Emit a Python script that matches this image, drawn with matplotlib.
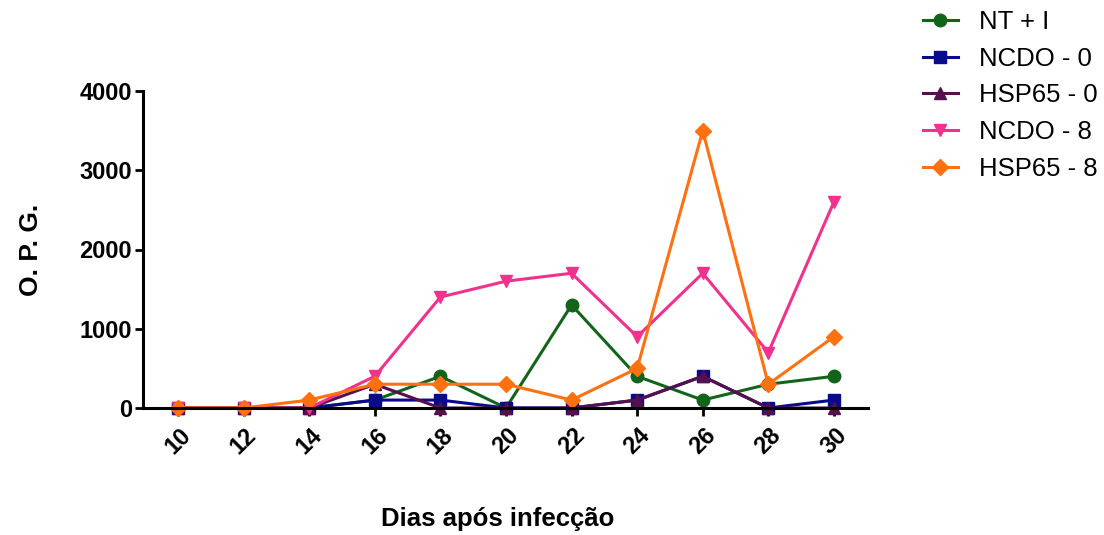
import matplotlib
matplotlib.use('Agg')
import matplotlib.pyplot as plt

# Dados
dias = [10, 12, 14, 16, 18, 20, 22, 24, 26, 28, 30]
nt_i = [0, 0, 0, 100, 400, 0, 1300, 400, 100, 300, 400]
ncdo_0 = [0, 0, 0, 100, 100, 0, 0, 100, 400, 0, 100]
hsp65_0 = [0, 0, 0, 300, 0, 0, 0, 100, 400, 0, 0]
ncdo_8 = [0, 0, 0, 400, 1400, 1600, 1700, 900, 1700, 700, 2600]
hsp65_8 = [0, 0, 100, 300, 300, 300, 100, 500, 3500, 300, 900]

series = [
    ("NT + I", nt_i, "#12641a", "o"),
    ("NCDO - 0", ncdo_0, "#0a0a8c", "s"),
    ("HSP65 - 0", hsp65_0, "#55104f", "^"),
    ("NCDO - 8", ncdo_8, "#f2318c", "v"),
    ("HSP65 - 8", hsp65_8, "#ff7010", "D"),
]

plt.rcParams['font.family'] = ['Liberation Sans', 'DejaVu Sans']

fig = plt.figure(figsize=(11.04, 5.35), dpi=100)
ax = fig.add_axes([143 / 1104, 1 - 408 / 535, 725 / 1104, 317 / 535])

for nome, vals, cor, mk in series:
    ax.plot(dias, vals, color=cor, marker=mk, markersize=9 if mk != "D" else 8,
            linewidth=2.2, label=nome, clip_on=False)

ax.set_xlim(8.93, 31.04)
ax.set_ylim(0, 4000)
ax.set_xticks(dias)
ax.set_yticks([0, 1000, 2000, 3000, 4000])
for s in ['top', 'right']:
    ax.spines[s].set_visible(False)
for s in ['left', 'bottom']:
    ax.spines[s].set_linewidth(2.2)
ax.tick_params(width=2, length=6, labelsize=17)
ax.tick_params(axis='x', pad=5)
ax.tick_params(axis='y', pad=2)
for t in ax.get_xticklabels() + ax.get_yticklabels():
    t.set_fontweight('bold')
plt.setp(ax.get_xticklabels(), rotation=45, ha='center', va='top')

ax.set_ylabel("O. P. G.", fontsize=19, fontweight='bold')
ax.yaxis.set_label_coords((43 - 143) / 725, 0.5)
ax.set_xlabel("Dias após infecção", fontsize=18.5, fontweight='bold')
ax.xaxis.set_label_coords((498 - 143) / 725, -(507 - 408) / 317)

ax.legend(loc='upper left', bbox_to_anchor=(1.061, 1.289), frameon=False,
          fontsize=18.5, handlelength=1.4, labelspacing=0.5, handletextpad=0.78,
          borderaxespad=0)

fig.savefig("out.png", dpi=100)
